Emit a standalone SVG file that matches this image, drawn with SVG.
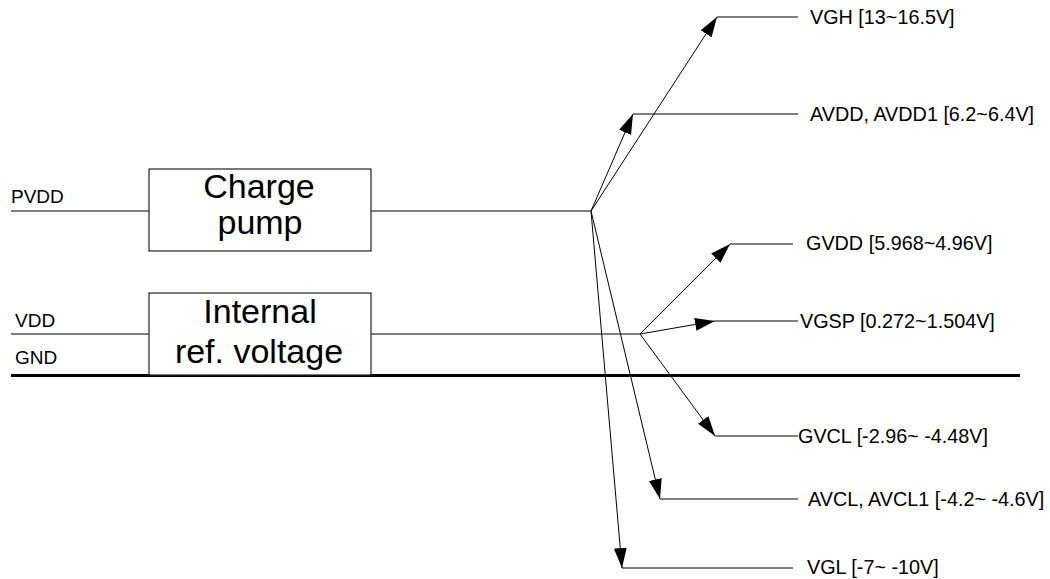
<svg xmlns="http://www.w3.org/2000/svg" width="1050" height="579" viewBox="0 0 1050 579">
<style>
.ln{stroke:#000;stroke-width:1;fill:none}
.box{stroke:#222;stroke-width:1.2;fill:#fff}
.lbl{font-family:"Liberation Sans",Arial,sans-serif;font-size:19.8px;fill:#000}
.sm{font-family:"Liberation Sans",Arial,sans-serif;font-size:19px;fill:#000}
.big{font-family:"Liberation Sans",Arial,sans-serif;font-size:34px;fill:#000;text-anchor:middle}
</style>
<defs>
<marker id="ah" markerUnits="userSpaceOnUse" markerWidth="20" markerHeight="13" refX="20" refY="6.5" orient="auto">
<path d="M0,0 L20,6.5 L0,13 z" fill="#000"/>
</marker>
</defs>
<g id="connectors">
<line class="ln" x1="11" y1="211" x2="149" y2="211"/>
<line class="ln" x1="371" y1="211" x2="591" y2="211"/>
<line class="ln" x1="11" y1="334" x2="149" y2="334"/>
<line class="ln" x1="371" y1="334" x2="640" y2="334"/>
<line x1="11" y1="375.5" x2="1020" y2="375.5" stroke="#000" stroke-width="3"/>
<line class="ln" x1="591" y1="211" x2="717" y2="17" marker-end="url(#ah)"/>
<line class="ln" x1="717" y1="17" x2="798" y2="17"/>
<line class="ln" x1="591" y1="211" x2="633" y2="114" marker-end="url(#ah)"/>
<line class="ln" x1="633" y1="114" x2="798" y2="114"/>
<line class="ln" x1="591" y1="211" x2="660" y2="499" marker-end="url(#ah)"/>
<line class="ln" x1="660" y1="499" x2="798" y2="499"/>
<line class="ln" x1="591" y1="211" x2="622" y2="568" marker-end="url(#ah)"/>
<line class="ln" x1="622" y1="568" x2="793" y2="568"/>
<line class="ln" x1="640" y1="334" x2="730" y2="244" marker-end="url(#ah)"/>
<line class="ln" x1="730" y1="244" x2="793" y2="244"/>
<line class="ln" x1="640" y1="334" x2="715" y2="321" marker-end="url(#ah)"/>
<line class="ln" x1="715" y1="321" x2="798" y2="321"/>
<line class="ln" x1="640" y1="334" x2="715" y2="436" marker-end="url(#ah)"/>
<line class="ln" x1="715" y1="436" x2="798" y2="436"/>
</g>
<g id="charge-pump">
<rect class="box" x="149" y="169" width="222" height="82"/>
<text class="big" x="259" y="198">Charge</text>
<text class="big" x="260" y="234">pump</text>
</g>
<g id="internal-ref">
<rect class="box" x="149" y="293" width="222" height="82"/>
<text class="big" x="260" y="323">Internal</text>
<text class="big" x="259" y="363">ref. voltage</text>
</g>
<g id="inputs">
<text class="sm" x="11" y="203">PVDD</text>
<text class="sm" x="15" y="327">VDD</text>
<text class="sm" x="15" y="364">GND</text>
</g>
<g id="outputs">
<text class="lbl" x="810" y="24">VGH [13~16.5V]</text>
<text class="lbl" x="810" y="121">AVDD, AVDD1 [6.2~6.4V]</text>
<text class="lbl" x="806" y="250">GVDD [5.968~4.96V]</text>
<text class="lbl" x="800" y="328">VGSP [0.272~1.504V]</text>
<text class="lbl" x="798" y="443">GVCL [-2.96~ -4.48V]</text>
<text class="lbl" x="808" y="506">AVCL, AVCL1 [-4.2~ -4.6V]</text>
<text class="lbl" x="807" y="574">VGL [-7~ -10V]</text>
</g>
</svg>
